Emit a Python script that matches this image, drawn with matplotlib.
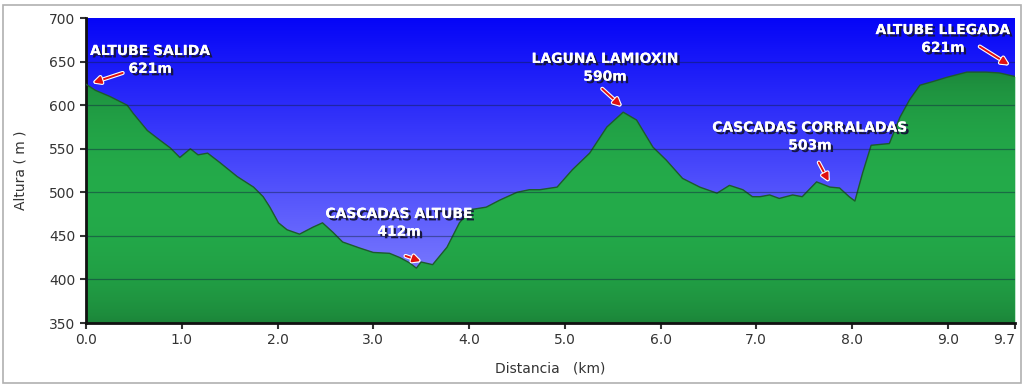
import numpy as np
import matplotlib
matplotlib.use("Agg")
import matplotlib.pyplot as plt
import matplotlib.patheffects as pe
from matplotlib.patches import Rectangle

# perfil (km, m)
dist = [0.0, 0.10, 0.25, 0.43, 0.49, 0.64, 0.77, 0.88, 0.98, 1.09, 1.17, 1.27, 1.40,
        1.58, 1.75, 1.85, 1.92, 2.01, 2.10, 2.23, 2.37, 2.47, 2.58, 2.68, 2.86, 3.00,
        3.17, 3.28, 3.38, 3.45, 3.50, 3.62, 3.77, 3.90, 4.01, 4.18, 4.32, 4.50, 4.63,
        4.74, 4.92, 5.08, 5.26, 5.44, 5.61, 5.75, 5.92, 6.06, 6.23, 6.41, 6.59, 6.72,
        6.86, 6.96, 7.04, 7.14, 7.24, 7.38, 7.48, 7.63, 7.77, 7.87, 7.97, 8.03, 8.11,
        8.20, 8.39, 8.50, 8.60, 8.71, 8.84, 8.99, 9.20, 9.40, 9.54, 9.70]
alt = [624, 617, 610, 600, 591, 571, 560, 551, 540, 550, 543, 545, 534,
       518, 506, 495, 483, 465, 457, 452, 460, 465, 454, 443, 436, 431,
       430, 425, 419, 413, 420, 417, 437, 465, 480, 483, 491, 500, 503,
       503, 506, 526, 545, 575, 592, 583, 552, 537, 516, 506, 499, 508,
       503, 495, 495, 497, 493, 497, 495, 512, 506, 505, 495, 490, 522,
       554, 556, 586, 606, 623, 627, 632, 638, 638, 637, 633]

etiquetas = ["ALTUBE SALIDA\n621m", "CASCADAS ALTUBE\n412m", "LAGUNA LAMIOXIN\n590m",
             "CASCADAS CORRALADAS\n503m", "ALTUBE LLEGADA\n621m"]
pos_texto = [(0.67, 652), (3.27, 465), (5.42, 643), (7.56, 564), (8.95, 676)]
pos_flecha = [(0.41, 638), (3.31, 428), (5.37, 621), (7.64, 537), (9.31, 669)]
pos_punta = [(0.05, 625), (3.52, 420), (5.61, 597), (7.77, 510), (9.66, 645)]

xticks = [0.0, 1.0, 2.0, 3.0, 4.0, 5.0, 6.0, 7.0, 8.0, 9.0, 9.7]
yticks = [350, 400, 450, 500, 550, 600, 650, 700]

fig = plt.figure(figsize=(10.24, 3.85), dpi=100)
fig.patches.append(Rectangle((0.003, 0.005), 0.994, 0.982, transform=fig.transFigure,
                             fill=False, edgecolor="#b0b0b0", lw=1.2))
ax = fig.add_axes([0.084, 0.161, 0.907, 0.792])
xmin, xmax, ymin, ymax = 0.0, 9.7, 350, 700

# fondo azul degradado
grad = np.linspace(0, 1, 256).reshape(-1, 1)
top = np.array([0.02, 0.02, 0.97])
bot = np.array([0.56, 0.56, 1.0])
bg = top + (bot - top) * grad[:, :, None]
ax.imshow(bg, extent=[xmin, xmax, ymin, ymax], origin="upper", aspect="auto", zorder=0)

# relleno verde degradado
poly = ax.fill_between(dist, alt, ymin, color="#22a548", zorder=1, lw=0)
g = np.linspace(0, 1, 256)
shade = 0.76 + 0.24 * np.sin(np.pi * g) ** 0.6
green = np.array([0.14, 0.67, 0.29])
gimg = (green[None, :] * shade[:, None])[:, None, :]
im = ax.imshow(gimg, extent=[xmin, xmax, ymin, 640], origin="upper", aspect="auto", zorder=2)
im.set_clip_path(poly.get_paths()[0], transform=ax.transData)
ax.plot(dist, alt, color="#1d5a2c", lw=1.0, zorder=3)

for y in yticks[1:-1]:
    ax.axhline(y, color="#102040", lw=0.9, alpha=0.45, zorder=4)

for t, p, f, h in zip(etiquetas, pos_texto, pos_flecha, pos_punta):
    ax.text(p[0], p[1], t, ha="center", va="center", color="white", fontsize=10,
            fontweight="bold", linespacing=1.35, zorder=6,
            path_effects=[pe.withSimplePatchShadow(offset=(1.8, -1.8), shadow_rgbFace="#15153a", alpha=0.95),
                          pe.Normal()])
    ax.annotate("", xy=h, xytext=f, zorder=6,
                arrowprops=dict(arrowstyle="-|>", color="#e01010", lw=1.4,
                                mutation_scale=11,
                                path_effects=[pe.withStroke(linewidth=3, foreground="white")]))

ax.set_xlim(xmin, xmax)
ax.set_ylim(ymin, ymax)
ax.set_xticks(xticks)
labs = ax.set_xticklabels([f"{v:.1f}" for v in xticks])
labs[-1].set_horizontalalignment("right")
ax.set_yticks(yticks)
ax.tick_params(labelsize=10, colors="#333333", length=4, width=1.5, direction="out")
for s in ["top", "right"]:
    ax.spines[s].set_visible(False)
for s in ["left", "bottom"]:
    ax.spines[s].set_linewidth(2)
    ax.spines[s].set_color("#111111")
ax.set_xlabel("Distancia   (km)", fontsize=10, color="#333333", labelpad=10)
ax.set_ylabel("Altura ( m )", fontsize=10, color="#333333", labelpad=16)

fig.savefig("out.png", dpi=100)
